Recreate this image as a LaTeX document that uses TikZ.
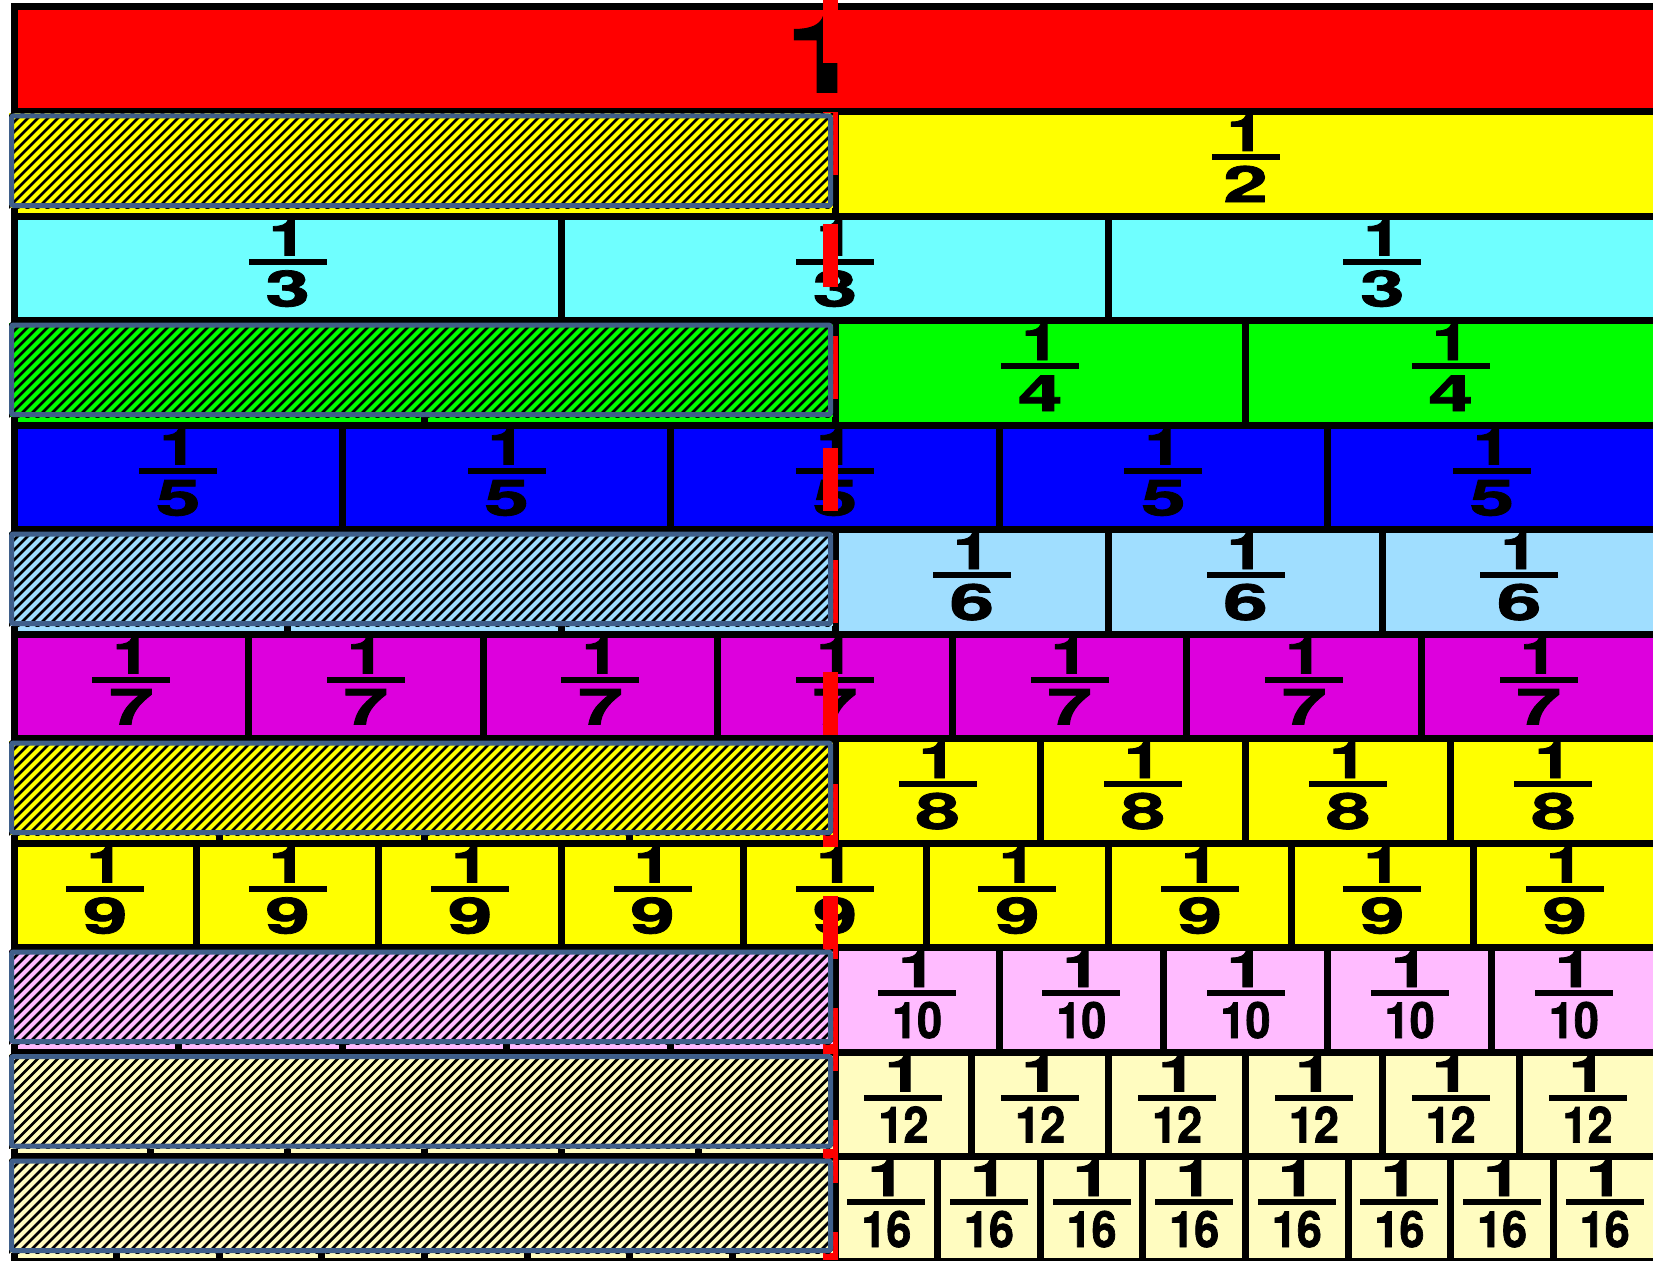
\documentclass[tikz,border=0pt]{standalone}
\usepackage{fontspec}
\setmainfont{TeX Gyre Heros}[BoldFeatures={FakeBold=1.5}]
\usepackage{graphicx}
\definecolor{cRed}{RGB}{255,0,0}
\definecolor{cYel}{RGB}{255,255,0}
\definecolor{cCyan}{RGB}{111,255,255}
\definecolor{cGreen}{RGB}{0,255,0}
\definecolor{cBlue}{RGB}{0,0,255}
\definecolor{cLBlue}{RGB}{160,222,255}
\definecolor{cMag}{RGB}{221,0,221}
\definecolor{cPink}{RGB}{255,187,255}
\definecolor{cLYel}{RGB}{255,252,192}
\definecolor{hatchBorder}{RGB}{63,95,138}
\newcommand\digs[2]{\scalebox{#1}[1]{#2}}
\tikzset{
  cell/.style={draw=black, line width=7pt},
  digit/.style={font=\fontsize{50}{50}\selectfont\bfseries, inner sep=0pt, anchor=base, text=black},
  bigone/.style={font=\fontsize{107}{107}\selectfont\bfseries, inner sep=0pt, anchor=base, text=black},
  redline/.style={draw=red, line width=15pt, dash pattern=on 63pt off 49pt},
  hatchframe/.style={draw=hatchBorder, line width=5pt, rounded corners=2pt},
  hatchline/.style={draw=black, line width=2.8pt}
}
\begin{document}
\begin{tikzpicture}[x=1pt,y=-1pt]
\useasboundingbox (0,0) rectangle (1653,1260);
\clip (0,0) rectangle (1653,1260);
\fill[white] (0,0) rectangle (1653,1260);
% cells
\foreach \r/\n/\col in {1/1/cRed, 2/2/cYel, 3/3/cCyan, 4/4/cGreen, 5/5/cBlue, 6/6/cLBlue, 7/7/cMag, 8/8/cYel, 9/9/cYel, 10/10/cPink, 11/12/cLYel, 12/16/cLYel}{
  \pgfmathsetmacro\yt{7+104.5*(\r-1)}
  \pgfmathsetmacro\yb{7+104.5*\r}
  \pgfmathsetmacro\w{1642/\n}
  \foreach \k in {1,...,\n}{
    \pgfmathsetmacro\xa{14+\w*(\k-1)}
    \pgfmathsetmacro\xb{14+\w*\k}
    \draw[cell, fill=\col] (\xa,\yt) rectangle (\xb,\yb);
  }
}
% big one
\node[bigone] (one) at (823,92) {\scalebox{1.25}[1]{1}};
% fractions
\foreach \r/\n in {2/2, 3/3, 4/4, 5/5, 6/6, 7/7, 8/8, 9/9, 10/10, 11/12, 12/16}{
  \pgfmathsetmacro\T{7+104.5*(\r-1)+3.5}
  \pgfmathsetmacro\w{1642/\n}
  \pgfmathsetmacro\bw{\n==2 ? 34 : 39}
  \ifnum\n>9 \def\sc{0.9}\else\def\sc{1.6}\fi
  \foreach \k in {1,...,\n}{
    \pgfmathsetmacro\cx{14+\w*(\k-0.5)}
    \node[digit] (num-\r-\k) at (\cx,\T+36) {\digs{1.35}{1}};
    \fill[black] (\cx-\bw,\T+39) rectangle (\cx+\bw,\T+45);
    \node[digit] (den-\r-\k) at (\cx,\T+87) {\digs{\sc}{\n}};
  }
}
% red middle line
\coordinate (rtop) at (830.5,0);
\coordinate (rbot) at (830.5,1260);
\draw[redline] (rtop) -- (rbot);
% hatched left halves
\foreach \r/\col in {2/cYel, 4/cGreen, 6/cLBlue, 8/cYel, 10/cPink, 11/cLYel, 12/cLYel}{
  \pgfmathsetmacro\yt{7+104.5*(\r-1)}
  \pgfmathsetmacro\yb{7+104.5*\r}
  \begin{scope}
    \clip (9,\yt+2) rectangle (833,\yb-8);
    \fill[\col] (9,\yt+2) rectangle (833,\yb-8);
    \foreach \t in {-110,-100,...,840}{
      \draw[hatchline] (\t,\yb) -- ++(110,-110);
    }
  \end{scope}
  \draw[hatchframe] (11.5,\yt+4.5) rectangle (830.5,\yb-10.5);
}
\end{tikzpicture}
\end{document}
